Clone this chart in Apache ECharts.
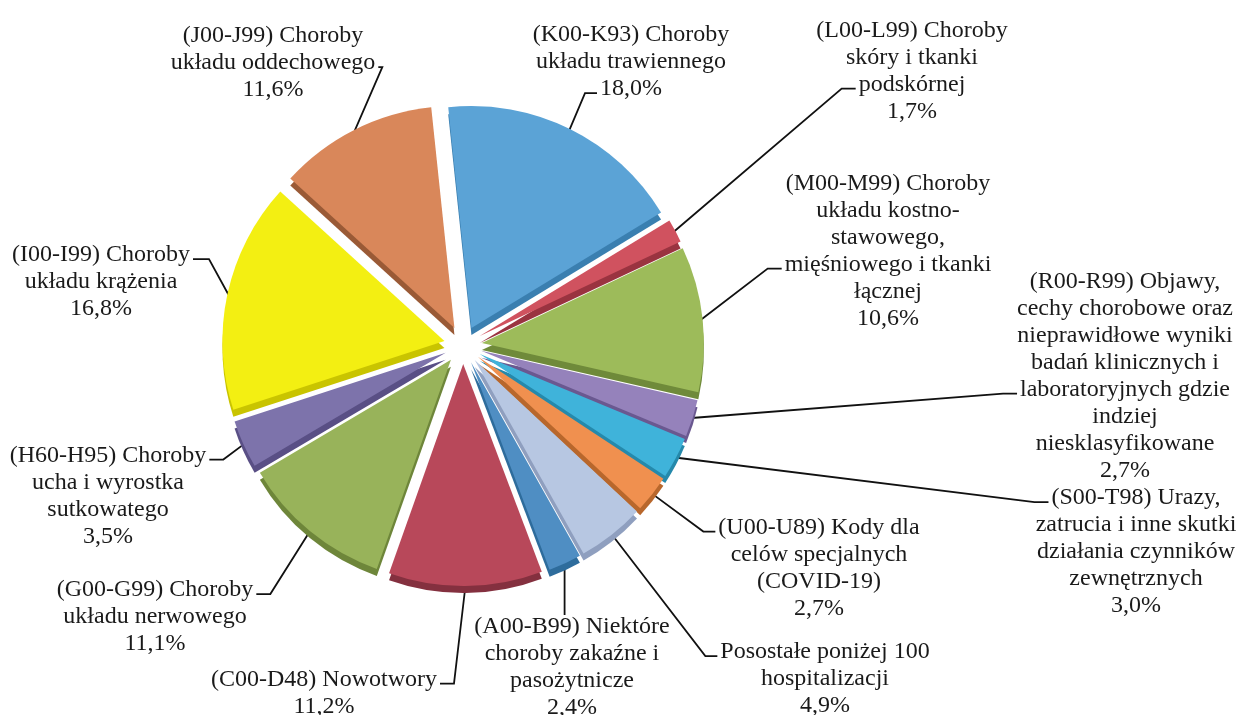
<!DOCTYPE html>
<html>
<head>
<meta charset="utf-8">
<title>Hospitalizacje wg grup chorób</title>
<script src="https://cdn.jsdelivr.net/npm/echarts@6/dist/echarts.min.js"></script>
<style>
	html, body { margin: 0; padding: 0; background: #fff; }
	#chart { width: 1239px; height: 715px; }
</style>
</head>
<body>
<div id="chart"></div>
<script>
// grupy chorób - od góry, zgodnie z ruchem wskazówek zegara
var categories = [
	"(K00-K93) Choroby\nukładu trawiennego",
	"(L00-L99) Choroby\nskóry i tkanki\npodskórnej",
	"(M00-M99) Choroby\nukładu kostno-\nstawowego,\nmięśniowego i tkanki\nłącznej",
	"(R00-R99) Objawy,\ncechy chorobowe oraz\nnieprawidłowe wyniki\nbadań klinicznych i\nlaboratoryjnych gdzie\nindziej\nniesklasyfikowane",
	"(S00-T98) Urazy,\nzatrucia i inne skutki\ndziałania czynników\nzewnętrznych",
	"(U00-U89) Kody dla\ncelów specjalnych\n(COVID-19)",
	"Posostałe poniżej 100\nhospitalizacji",
	"(A00-B99) Niektóre\nchoroby zakaźne i\npasożytnicze",
	"(C00-D48) Nowotwory",
	"(G00-G99) Choroby\nukładu nerwowego",
	"(H60-H95) Choroby\nucha i wyrostka\nsutkowatego",
	"(I00-I99) Choroby\nukładu krążenia",
	"(J00-J99) Choroby\nukładu oddechowego"
];

// udział procentowy
var values = [18.0, 1.7, 10.6, 2.7, 3.0, 2.7, 4.9, 2.4, 11.2, 11.1, 3.5, 16.8, 11.6];

// kolory wycinków i ich "boków"
var colors = ["#5ba3d6", "#d0525f", "#9dbb5a", "#9582bb", "#3fb3da", "#f0904f", "#b7c7e2",
	"#4f8ec3", "#b8485a", "#98b35a", "#7d73ab", "#f3ef12", "#d9875a"];
var sideColors = ["#3a7fb0", "#9a3340", "#6f8a3a", "#6a5890", "#2589ab", "#b8672c", "#8f9fbf",
	"#2e6c9c", "#84303f", "#6e863a", "#594f85", "#c9c400", "#9a5a36"];

// środki bloków etykiet i miejsce doczepienia linii (strona, numer wiersza, długość poziomego odcinka)
var labelCenters = [[631, 62], [912, 71], [888, 251], [1125, 376], [1136, 552], [819, 568],
	[825, 679], [572, 667], [324, 693], [155, 617], [108, 496], [101, 282], [273, 63]];
var lineAttach = [['left', 2, 12], ['left', 2, 14], ['left', 3, 14], ['left', 4, 14], ['left', 0, 14], ['left', 0, 12],
	['left', 0, 12], ['top', 0, 0], ['right', 0, 14], ['right', 0, 14], ['right', 0, 14], ['right', 0, 16], ['right', 1, 4]];

var LINE_H = 27;
var FONT = '"Liberation Serif", "Times New Roman", serif';

var measureCtx = document.createElement('canvas').getContext('2d');
measureCtx.font = '24px ' + FONT;

function labelText(i) {
	return categories[i] + '\n' + values[i].toFixed(1).replace('.', ',') + '%';
}

var pieData = [];
var labelData = [];
for (var i = 0; i < values.length; i++) {
	pieData.push({
		name: categories[i],
		value: values[i],
		selected: true,
		itemStyle: { color: colors[i], shadowColor: sideColors[i] }
	});
	labelData.push({ name: categories[i], value: values[i] });
}

var myChart = echarts.init(document.getElementById('chart'), null, { renderer: 'canvas' });
myChart.setOption({
	backgroundColor: '#ffffff',
	animation: false,
	series: [{
		// wycinki "wysunięte"
		type: 'pie',
		center: [463, 345],
		radius: [0, 222],
		startAngle: 96,
		clockwise: true,
		selectedMode: 'multiple',
		selectedOffset: 19,
		silent: true,
		data: pieData,
		itemStyle: {
			borderWidth: 0,
			shadowBlur: 0,
			shadowOffsetX: 0,
			shadowOffsetY: 7
		},
		select: { itemStyle: { borderWidth: 0 } },
		label: { show: false },
		labelLine: { show: false }
	}, {
		// niewidoczna kopia - tylko etykiety z liniami
		type: 'pie',
		center: [463, 345],
		radius: [0, 240],
		startAngle: 96,
		clockwise: true,
		selectedMode: false,
		silent: true,
		avoidLabelOverlap: false,
		data: labelData,
		itemStyle: { color: 'rgba(0,0,0,0)' },
		label: {
			show: true,
			position: 'outside',
			fontFamily: FONT,
			fontSize: 24,
			lineHeight: LINE_H,
			color: '#1a1a1a',
			align: 'center',
			formatter: function (p) {
				return labelText(p.dataIndex);
			}
		},
		labelLine: {
			show: true,
			length: 10,
			length2: 12,
			lineStyle: { color: '#111111', width: 1.8 }
		},
		labelLayout: function (params) {
			var idx = params.dataIndex;
			var c = labelCenters[idx];
			var lines = labelText(idx).split('\n');
			var top = c[1] - lines.length * LINE_H / 2;
			var a = lineAttach[idx];
			var p0 = params.labelLinePoints[0];
			var start = [p0[0], p0[1]];
			var end, elbow;
			if (a[0] === 'top') {
				end = [start[0], top + 2];
				elbow = [start[0], (start[1] + end[1]) / 2];
			} else {
				var w = measureCtx.measureText(lines[a[1]]).width;
				var y = top + (a[1] + 0.65) * LINE_H;
				var sign = a[0] === 'left' ? -1 : 1;
				end = [c[0] + sign * (w / 2 + 3), y];
				elbow = [end[0] + sign * a[2], y];
			}
			return {
				x: c[0],
				y: c[1],
				align: 'center',
				verticalAlign: 'middle',
				labelLinePoints: [start, elbow, end]
			};
		}
	}]
});
</script>
</body>
</html>
